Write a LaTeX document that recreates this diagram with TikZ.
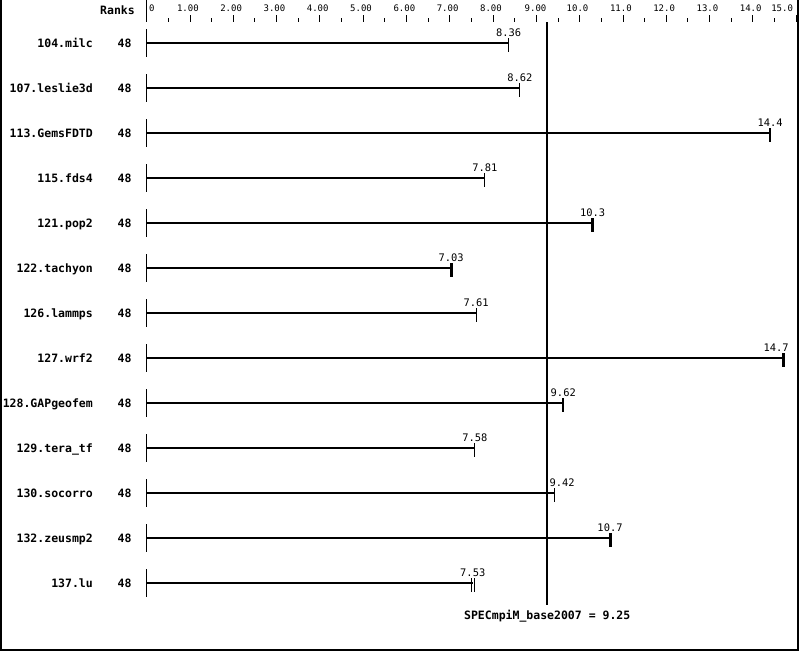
\documentclass[tikz,border=0pt]{standalone}
\usepackage{fontspec}
\setmonofont{DejaVu Sans Mono}
\usepackage{tikz}
\usetikzlibrary{positioning}

\begin{document}
\begin{tikzpicture}[x=1pt,y=-1pt,
	bench/.style={anchor=base east,inner sep=0pt,font=\ttfamily\bfseries\fontsize{11.5}{12}\selectfont},
	rank/.style={anchor=base,inner sep=0pt,font=\ttfamily\bfseries\fontsize{11.5}{12}\selectfont},
	val/.style={anchor=base,inner sep=0pt,font=\ttfamily\fontsize{10.4}{11}\selectfont},
	ticklab/.style={anchor=base,inner sep=0pt,font=\ttfamily\fontsize{9}{10}\selectfont},
	rowmark/.style={line width=1pt},
	bar/.style={line width=2pt},
	endtick/.style={line width=1pt},
	endtickm/.style={line width=1.8pt},
	endtickb/.style={line width=3pt}]
	\useasboundingbox (0,0) rectangle (799,651);
	%% frame
	\draw[line width=1.5pt] (0.75,0) -- (0.75,649.8) -- (797.8,649.8) -- (797.8,0);
	\node[bench] (ranks) at (135,14) {Ranks};
	%% benchmark names and ranks
	\node[bench] (n104) at (93,47) {104.milc};
	\node[rank] (r104) at (124.5,47) {48};
	\node[bench] (n107) at (93,92) {107.leslie3d};
	\node[rank] (r107) at (124.5,92) {48};
	\node[bench] (n113) at (93,137) {113.GemsFDTD};
	\node[rank] (r113) at (124.5,137) {48};
	\node[bench] (n115) at (93,182) {115.fds4};
	\node[rank] (r115) at (124.5,182) {48};
	\node[bench] (n121) at (93,227) {121.pop2};
	\node[rank] (r121) at (124.5,227) {48};
	\node[bench] (n122) at (93,272) {122.tachyon};
	\node[rank] (r122) at (124.5,272) {48};
	\node[bench] (n126) at (93,317) {126.lammps};
	\node[rank] (r126) at (124.5,317) {48};
	\node[bench] (n127) at (93,362) {127.wrf2};
	\node[rank] (r127) at (124.5,362) {48};
	\node[bench] (n128) at (93,407) {128.GAPgeofem};
	\node[rank] (r128) at (124.5,407) {48};
	\node[bench] (n129) at (93,452) {129.tera\_tf};
	\node[rank] (r129) at (124.5,452) {48};
	\node[bench] (n130) at (93,497) {130.socorro};
	\node[rank] (r130) at (124.5,497) {48};
	\node[bench] (n132) at (93,542) {132.zeusmp2};
	\node[rank] (r132) at (124.5,542) {48};
	\node[bench] (n137) at (93,587) {137.lu};
	\node[rank] (r137) at (124.5,587) {48};
	\begin{scope}[shift={(146.7,0)},x=43.3pt]
		%% axis
		\draw[line width=1pt] (0,0) -- (0,22);
		\foreach \t in {1,...,15}
			\draw[line width=1pt] (\t,15) -- (\t,22);
		\foreach \t in {0.5,1.5,...,14.5}
			\draw[line width=1pt] (\t,18) -- (\t,22);
		\node[ticklab,anchor=base west] (t0) at (0.05,11) {0};
		\node[ticklab] (t1) at (0.95,11) {1.00};
		\node[ticklab] (t2) at (1.95,11) {2.00};
		\node[ticklab] (t3) at (2.95,11) {3.00};
		\node[ticklab] (t4) at (3.95,11) {4.00};
		\node[ticklab] (t5) at (4.95,11) {5.00};
		\node[ticklab] (t6) at (5.95,11) {6.00};
		\node[ticklab] (t7) at (6.95,11) {7.00};
		\node[ticklab] (t8) at (7.95,11) {8.00};
		\node[ticklab] (t9) at (8.98,11) {9.00};
		\node[ticklab] (t10) at (9.95,11) {10.0};
		\node[ticklab] (t11) at (10.95,11) {11.0};
		\node[ticklab] (t12) at (11.95,11) {12.0};
		\node[ticklab] (t13) at (12.95,11) {13.0};
		\node[ticklab] (t14) at (13.95,11) {14.0};
		\node[ticklab,anchor=base east] (t15) at (14.93,11) {15.0};
		%% bars
		\draw[rowmark] (0,29) -- (0,57);
		\draw[bar] (0,43) -- (8.36,43);
		\draw[endtick] (8.36,38) -- (8.36,52);
		\node[val] (v104) at (8.36,36) {8.36};
		\draw[rowmark] (0,74) -- (0,102);
		\draw[bar] (0,88) -- (8.62,88);
		\draw[endtick] (8.62,83) -- (8.62,97);
		\node[val] (v107) at (8.62,81) {8.62};
		\draw[rowmark] (0,119) -- (0,147);
		\draw[bar] (0,133) -- (14.4,133);
		\draw[endtickm] (14.4,128) -- (14.4,142);
		\node[val] (v113) at (14.4,126) {14.4};
		\draw[rowmark] (0,164) -- (0,192);
		\draw[bar] (0,178) -- (7.81,178);
		\draw[endtick] (7.81,173) -- (7.81,187);
		\node[val] (v115) at (7.81,171) {7.81};
		\draw[rowmark] (0,209) -- (0,237);
		\draw[bar] (0,223) -- (10.3,223);
		\draw[endtickb] (10.3,218) -- (10.3,232);
		\node[val] (v121) at (10.3,216) {10.3};
		\draw[rowmark] (0,254) -- (0,282);
		\draw[bar] (0,268) -- (7.03,268);
		\draw[endtickb] (7.03,263) -- (7.03,277);
		\node[val] (v122) at (7.03,261) {7.03};
		\draw[rowmark] (0,299) -- (0,327);
		\draw[bar] (0,313) -- (7.61,313);
		\draw[endtick] (7.61,308) -- (7.61,322);
		\node[val] (v126) at (7.61,306) {7.61};
		\draw[rowmark] (0,344) -- (0,372);
		\draw[bar] (0,358) -- (14.7,358);
		\draw[endtickb] (14.7,353) -- (14.7,367);
		\node[val,anchor=base east] (v127) at (14.83,351) {14.7};
		\draw[rowmark] (0,389) -- (0,417);
		\draw[bar] (0,403) -- (9.62,403);
		\draw[endtickm] (9.62,398) -- (9.62,412);
		\node[val] (v128) at (9.62,396) {9.62};
		\draw[rowmark] (0,434) -- (0,462);
		\draw[bar] (0,448) -- (7.58,448);
		\draw[endtick] (7.58,443) -- (7.58,457);
		\node[val] (v129) at (7.58,441) {7.58};
		\draw[rowmark] (0,479) -- (0,507);
		\draw[bar] (0,493) -- (9.42,493);
		\draw[endtick] (9.42,488) -- (9.42,502);
		\node[val,anchor=base west] (v130) at (9.3,486) {9.42};
		\draw[rowmark] (0,524) -- (0,552);
		\draw[bar] (0,538) -- (10.7,538);
		\draw[endtickb] (10.7,533) -- (10.7,547);
		\node[val] (v132) at (10.7,531) {10.7};
		\draw[rowmark] (0,569) -- (0,597);
		\draw[bar] (0,583) -- (7.53,583);
		\draw[endtick] ([xshift=-1.5pt]7.53,578) -- ([xshift=-1.5pt]7.53,592);
		\draw[endtick] ([xshift=1.5pt]7.53,578) -- ([xshift=1.5pt]7.53,592);
		\node[val] (v137) at (7.53,576) {7.53};
		%% base reference line
		\draw[line width=2pt] (9.25,22) -- (9.25,605);
		\node[rank] (base) at (9.25,619) {SPECmpiM\_base2007 = 9.25};
	\end{scope}
\end{tikzpicture}
\end{document}
